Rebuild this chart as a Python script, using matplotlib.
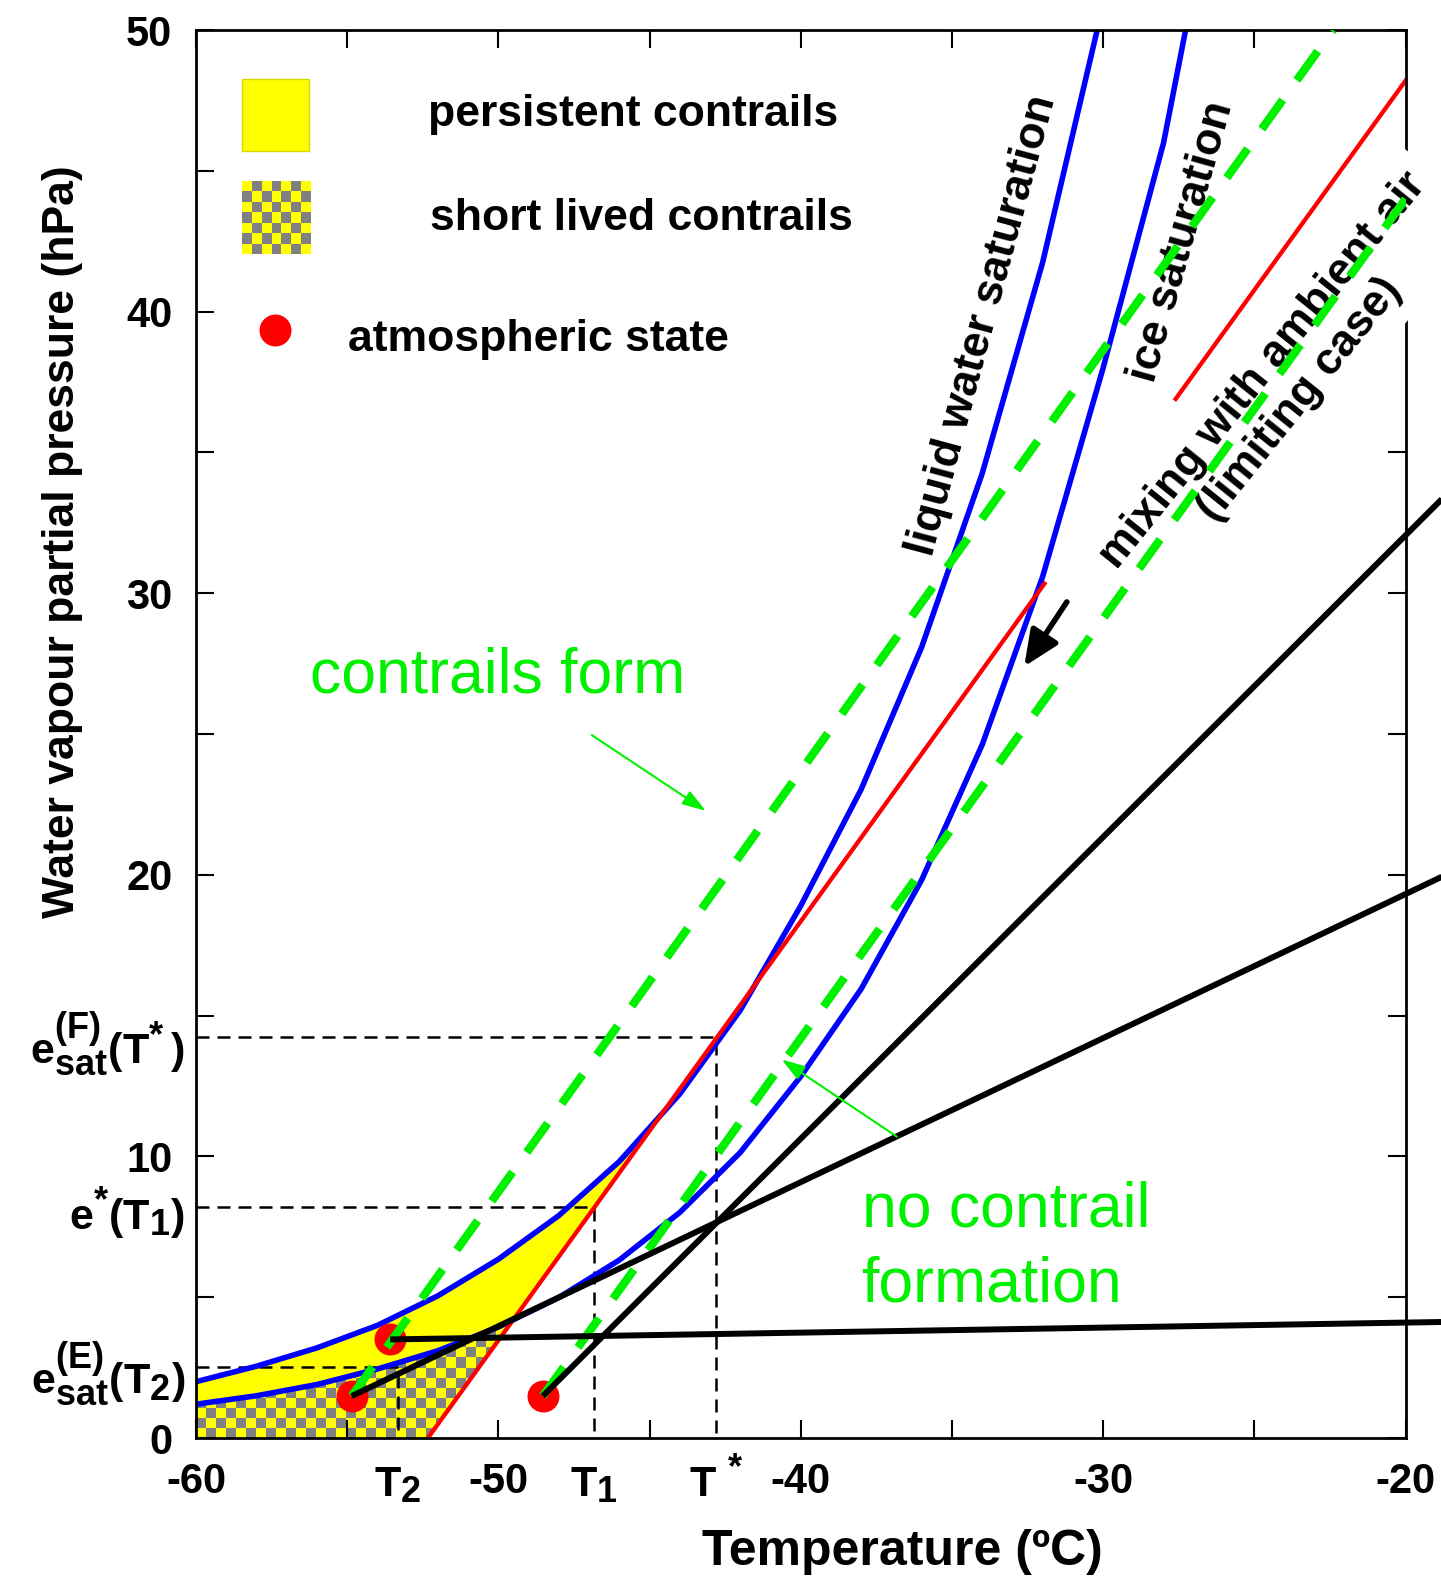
import numpy as np
import matplotlib.pyplot as plt
import matplotlib._mathtext as mathtext_internals
from matplotlib.colors import ListedColormap
from matplotlib.patches import Rectangle

plt.rcParams['font.family'] = ['Liberation Sans', 'DejaVu Sans']
plt.rcParams['font.weight'] = 'bold'
plt.rcParams['mathtext.fontset'] = 'custom'
plt.rcParams['mathtext.rm'] = 'Liberation Sans:bold'
plt.rcParams['mathtext.it'] = 'Liberation Sans:bold'
plt.rcParams['mathtext.bf'] = 'Liberation Sans:bold'
plt.rcParams['mathtext.default'] = 'bf'
# sub/superscripts in the labels are fairly large
mathtext_internals.SHRINK_FACTOR = 0.84

# saturation curves
t_liquid = [-60, -58, -56, -54, -52, -50, -48, -46, -44, -42, -40, -38, -36, -34, -32, -30]
e_liquid = [2.0, 2.55, 3.2, 4.0, 5.05, 6.35, 7.9, 9.82, 12.22, 15.19, 18.9, 23.04, 28.09, 34.25, 41.75, 50.9]
t_ice = [-60, -58, -56, -54, -52, -50, -48, -46, -44, -42, -40, -38, -36, -34, -32, -30, -28, -26]
e_ice = [1.2, 1.5, 1.9, 2.45, 3.1, 3.94, 4.99, 6.32, 8.01, 10.14, 12.84, 15.95, 19.82, 24.62, 30.59, 38.0, 46.0, 57.0]

# limiting mixing line (red), visible parts only (hidden behind its label)
t_mix = [-52.33, -31.94, np.nan, -27.6, -20.0]
e_mix = [0.0, 30.34, np.nan, 36.9, 48.2]

# atmospheric states
t_state = [-54.85, -53.58, -48.53]
e_state = [1.49, 3.50, 1.49]

# plume lines from the states (black), running past the right edge
t_plume_end = [-18.8, -18.8, -18.8]
e_plume_end = [19.93, 4.12, 33.34]

# threshold lines (green dashed)
t_thresh = [[-54.85, -22.4], [-48.53, -20.0]]
e_thresh = [[1.49, 50.0], [1.49, 44.0]]

# marked temperatures / pressures
t_marks = [-53.33, -46.85, -42.8]
e_marks = [2.53, 8.2, 14.25]
t_mark_labels = [r'$T_2$', r'$T_1$', r'$T^{\,*}$']
e_mark_labels = [r'$e^{(E)}_{sat}(T_2)$', r'$e^{*}(T_1)$', r'$e^{(F)}_{sat}(T^{*}\,)$']

x_ticks = [-60, -55, -50, -45, -40, -35, -30, -25, -20]
x_labels = ['-60', '', '-50', '', '-40', '', '-30', '', '-20']
y_ticks = [0, 5, 10, 15, 20, 25, 30, 35, 40, 45, 50]
y_labels = ['0', '', '10', '', '20', '', '30', '', '40', '', '50']

green = '#00f000'
yellow = '#ffff00'
checker_cmap = ListedColormap([yellow, '#808080'])

fig = plt.figure(figsize=(14.41, 15.80), dpi=100)
ax = fig.add_axes([0.13602, 0.08987, 0.83935, 0.89114])

# regions
tg = np.linspace(-60, -42, 2000)
liq_g = np.interp(tg, t_liquid, e_liquid)
ice_g = np.interp(tg, t_ice, e_ice)
red_g = np.polyval(np.polyfit(t_mix[:2], e_mix[:2], 1), tg)

low = np.maximum(ice_g, red_g)
ax.fill_between(tg, low, liq_g, where=liq_g > low, color=yellow, lw=0, zorder=1)

low2 = np.maximum(0, red_g)
short = ax.fill_between(tg, low2, ice_g, where=ice_g > low2, color=yellow, lw=0, zorder=1)
chk = np.indices((15, 34)).sum(axis=0) % 2
im = ax.imshow(chk, cmap=checker_cmap, extent=(-60, -60 + 34 * 10 / 30.24, 0, 15 * 10 / 28.16),
               origin='lower', interpolation='nearest', aspect='auto', zorder=1.1)
im.set_clip_path(short.get_paths()[0], transform=ax.transData)

# legend
ax.add_patch(Rectangle((-58.49, 45.70), 2.24, 2.57, facecolor=yellow, edgecolor='#d8d800', lw=1, zorder=2))
chk2 = np.indices((7, 7)).sum(axis=0) % 2
ax.imshow(chk2, cmap=checker_cmap, extent=(-58.49, -56.22, 42.05, 44.62),
          interpolation='nearest', aspect='auto', zorder=2)
ax.plot([-57.38], [39.33], 'o', color='red', ms=22, zorder=3)
ax.text(-52.33, 47.0, 'persistent contrails', fontsize=32, ha='left', va='center')
ax.text(-52.25, 43.3, 'short lived contrails', fontsize=32, ha='left', va='center')
ax.text(-54.98, 39.0, 'atmospheric state', fontsize=32, ha='left', va='center')

# reference dashed lines
for t, e in zip(t_marks, e_marks):
    ax.plot([-60, t, t], [e, e, 0], color='black', lw=1.8, dashes=(5.2, 3.2), zorder=1.5)

ax.plot(t_liquid, e_liquid, color='#0000ff', lw=4, zorder=2)
ax.plot(t_ice, e_ice, color='#0000ff', lw=4, zorder=2)
ax.plot(t_mix, e_mix, color='#ff0000', lw=3.1, zorder=2.2)

ax.plot(t_state, e_state, 'o', color='red', ms=22, zorder=3)

for tt, ee in zip(t_thresh, e_thresh):
    ax.plot(tt, ee, color=green, lw=6, dashes=(4.3, 2.9), zorder=4)

for t0, e0, t1, e1 in zip(t_state, e_state, t_plume_end, e_plume_end):
    ax.plot([t0, t1], [e0, e1], color='black', lw=4.3, solid_capstyle='butt', clip_on=False, zorder=4.5)

# labels in the plot
ax.text(-56.22, 27.05, 'contrails form', fontsize=45, fontweight='normal', color=green, ha='left', va='center')
ax.text(-37.99, 8.1, 'no contrail', fontsize=45, fontweight='normal', color=green, ha='left', va='center')
ax.text(-37.99, 5.45, 'formation', fontsize=45, fontweight='normal', color=green, ha='left', va='center')
ax.text(-34.0, 39.5, 'liquid water saturation', fontsize=32, rotation=75,
        rotation_mode='anchor', ha='center', va='center', zorder=3.5)
ax.text(-27.4, 42.5, 'ice saturation', fontsize=32, rotation=74.3,
        rotation_mode='anchor', ha='center', va='center', zorder=3.5)
ax.text(-24.1, 37.4, 'mixing with ambient air\n(limiting case)', fontsize=32,
        rotation=51.2, rotation_mode='anchor', ha='center', va='center', multialignment='center',
        linespacing=1.2, bbox=dict(facecolor='white', edgecolor='none', pad=10), zorder=3.5)

arrow_green = dict(arrowstyle='-|>,head_length=0.4,head_width=0.13', mutation_scale=36,
                   color=green, lw=1.5, shrinkA=0, shrinkB=0)
ax.annotate('', xy=(-43.14, 22.27), xytext=(-46.91, 24.96), arrowprops=arrow_green, zorder=5)
ax.annotate('', xy=(-40.63, 13.44), xytext=(-36.82, 10.70), arrowprops=arrow_green, zorder=5)
ax.annotate('', xy=(-32.61, 27.4), xytext=(-31.2, 29.69),
            arrowprops=dict(arrowstyle='-|>,head_length=0.54,head_width=0.24', mutation_scale=40,
                            color='black', lw=4, shrinkA=0, shrinkB=0), zorder=5)

# axes
ax.set_xlim(-60, -20)
ax.set_ylim(0, 50)
ax.set_xticks(x_ticks, x_labels)
ax.set_yticks(y_ticks, y_labels)
ax.set_yticks(e_marks, e_mark_labels, minor=True)
ax.tick_params(which='major', direction='in', length=13, width=1.5, top=True, right=True,
               labelsize=30, pad=17)
ax.tick_params(axis='y', which='minor', length=0, labelsize=31, pad=8)
for s in ax.spines.values():
    s.set_linewidth(2)

# marked temperatures under the axis, sharing the baseline of the numbers
for t, lbl in zip(t_marks, t_mark_labels):
    ax.text(t, -0.0415, lbl, transform=ax.get_xaxis_transform(), fontsize=31,
            ha='center', va='baseline')

fig.text(0.626, 0.0177, 'Temperature (ºC)', fontsize=36, ha='center', va='center')
fig.text(0.0434, 0.657, 'Water vapour partial pressure (hPa)', fontsize=32, rotation=90,
         ha='center', va='center')

fig.savefig('out.png', dpi=100)
